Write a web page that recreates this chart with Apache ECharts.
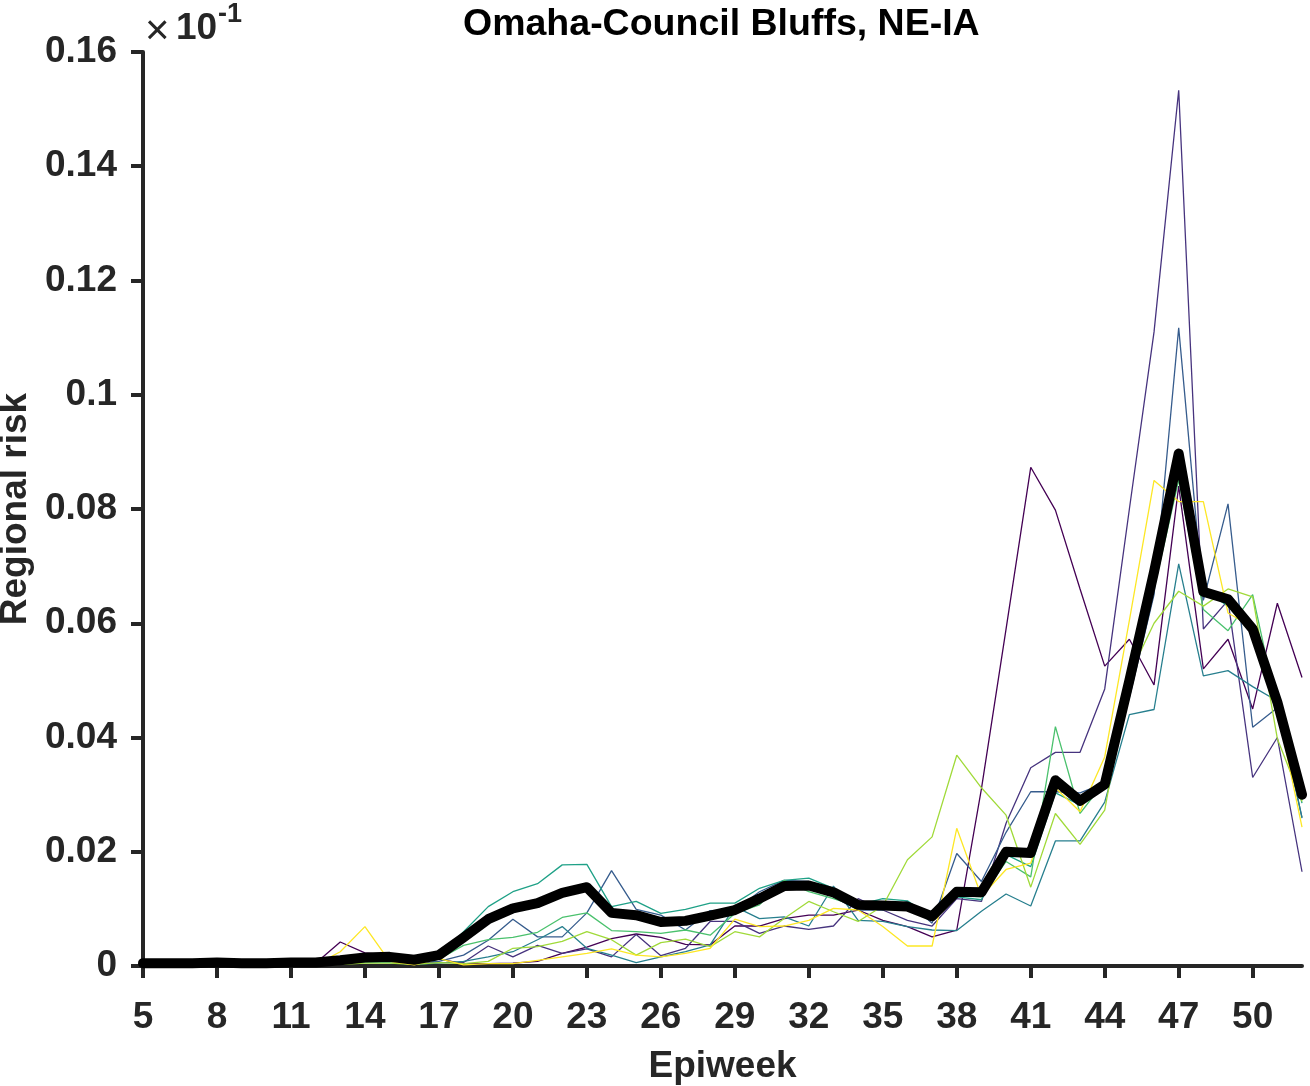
<!DOCTYPE html>
<html><head><meta charset="utf-8">
<script src="https://cdn.jsdelivr.net/npm/echarts@6/dist/echarts.min.js"></script>
<style>html,body{margin:0;padding:0;background:#fff}#c{width:1310px;height:1086px}</style>
</head><body><div id="c"></div>
<script>
// Epiweeks 5..52
const weeks = [5,6,7,8,9,10,11,12,13,14,15,16,17,18,19,20,21,22,23,24,25,26,27,28,29,30,31,32,33,34,35,36,37,38,39,40,41,42,43,44,45,46,47,48,49,50,51,52];
const yTicks = [0,0.02,0.04,0.06,0.08,0.1,0.12,0.14,0.16];

const run1 = [0.0003,0.0003,0.0003,0.0004,0.0003,0.0003,0.0005,0.0005,0.0042,0.0023,0.0019,0.0008,0.0012,0.0004,0.0004,0.0005,0.0008,0.0022,0.0033,0.0048,0.0056,0.0050,0.0038,0.0037,0.0070,0.0070,0.0083,0.0089,0.0089,0.0098,0.0080,0.0069,0.0051,0.0063,0.0310,0.0590,0.0873,0.0798,0.0660,0.0525,0.0572,0.0492,0.0840,0.0520,0.0572,0.0450,0.0635,0.0505];
const run2 = [0.0002,0.0002,0.0002,0.0003,0.0002,0.0002,0.0003,0.0003,0.0008,0.0010,0.0008,0.0005,0.0006,0.0006,0.0035,0.0016,0.0036,0.0022,0.0030,0.0016,0.0055,0.0018,0.0031,0.0078,0.0078,0.0057,0.0070,0.0064,0.0070,0.0118,0.0098,0.0080,0.0070,0.0118,0.0113,0.0250,0.0347,0.0374,0.0374,0.0485,0.0800,0.1110,0.1533,0.0590,0.0640,0.0330,0.0400,0.0165];
const run3 = [0.0003,0.0003,0.0003,0.0003,0.0003,0.0003,0.0004,0.0004,0.0005,0.0008,0.0010,0.0006,0.0008,0.0019,0.0045,0.0082,0.0051,0.0051,0.0093,0.0167,0.0099,0.0089,0.0063,0.0097,0.0098,0.0130,0.0150,0.0148,0.0121,0.0098,0.0098,0.0113,0.0075,0.0197,0.0148,0.0234,0.0305,0.0305,0.0303,0.0320,0.0470,0.0650,0.1117,0.0640,0.0809,0.0418,0.0452,0.0260];
const run4 = [0.0002,0.0002,0.0002,0.0002,0.0002,0.0002,0.0003,0.0003,0.0004,0.0006,0.0006,0.0003,0.0005,0.0008,0.0016,0.0025,0.0046,0.0069,0.0031,0.0019,0.0006,0.0016,0.0025,0.0037,0.0104,0.0083,0.0086,0.0070,0.0140,0.0080,0.0078,0.0069,0.0063,0.0062,0.0096,0.0126,0.0105,0.0219,0.0219,0.0287,0.0440,0.0449,0.0704,0.0508,0.0517,0.0489,0.0464,0.0259];
const run5 = [0.0004,0.0004,0.0004,0.0005,0.0004,0.0004,0.0005,0.0005,0.0006,0.0010,0.0012,0.0007,0.0017,0.0060,0.0104,0.0130,0.0144,0.0177,0.0178,0.0104,0.0113,0.0092,0.0099,0.0110,0.0110,0.0136,0.0150,0.0154,0.0136,0.0107,0.0118,0.0114,0.0084,0.0121,0.0116,0.0195,0.0174,0.0303,0.0282,0.0317,0.0500,0.0680,0.0885,0.0660,0.0630,0.0580,0.0450,0.0285];
const run6 = [0.0003,0.0003,0.0003,0.0003,0.0003,0.0003,0.0004,0.0004,0.0004,0.0007,0.0008,0.0004,0.0012,0.0036,0.0046,0.0050,0.0059,0.0085,0.0093,0.0062,0.0060,0.0057,0.0063,0.0054,0.0092,0.0107,0.0150,0.0130,0.0118,0.0104,0.0104,0.0104,0.0081,0.0124,0.0121,0.0183,0.0156,0.0419,0.0267,0.0323,0.0490,0.0660,0.0851,0.0624,0.0587,0.0650,0.0450,0.0290];
const run7 = [0.0002,0.0002,0.0002,0.0002,0.0002,0.0002,0.0002,0.0002,0.0003,0.0005,0.0005,0.0003,0.0006,0.0004,0.0008,0.0031,0.0034,0.0043,0.0060,0.0046,0.0019,0.0041,0.0047,0.0034,0.0060,0.0051,0.0083,0.0113,0.0095,0.0078,0.0105,0.0186,0.0226,0.0369,0.0312,0.0264,0.0138,0.0267,0.0213,0.0273,0.0510,0.0600,0.0656,0.0630,0.0660,0.0646,0.0398,0.0288];
const run8 = [0.0002,0.0002,0.0002,0.0002,0.0002,0.0002,0.0002,0.0002,0.0025,0.0069,0.0008,0.0002,0.0013,0.0002,0.0004,0.0004,0.0010,0.0016,0.0022,0.0030,0.0019,0.0016,0.0022,0.0031,0.0082,0.0069,0.0070,0.0080,0.0101,0.0098,0.0069,0.0035,0.0035,0.0241,0.0122,0.0169,0.0180,0.0312,0.0270,0.0366,0.0605,0.0850,0.0813,0.0813,0.0618,0.0593,0.0450,0.0243];
const meanRisk = [0.0005,0.0005,0.0005,0.0006,0.0005,0.0005,0.0006,0.0006,0.0010,0.0015,0.0016,0.0011,0.0019,0.0050,0.0082,0.0101,0.0110,0.0128,0.0138,0.0093,0.0089,0.0077,0.0079,0.0088,0.0098,0.0118,0.0140,0.0141,0.0129,0.0107,0.0106,0.0104,0.0087,0.0130,0.0129,0.0200,0.0198,0.0325,0.0289,0.0318,0.0500,0.0690,0.0897,0.0655,0.0642,0.0590,0.0462,0.0300];

const runs = [run1,run2,run3,run4,run5,run6,run7,run8];
const colors = ['#440154','#46337e','#365c8d','#277f8e','#1fa187','#4ac16d','#a0da39','#fde725'];

const FONT = '"Liberation Sans", Arial, Helvetica, sans-serif';
const AX = '#262626';

const series = runs.map((r,i)=>({
  type:'line', data:r, symbol:'none', silent:true, animation:false,
  lineStyle:{color:colors[i], width:1.3}, z:2+i
}));
series.push({type:'line', data:meanRisk, symbol:'none', silent:true, animation:false,
  lineStyle:{color:'#000', width:10, cap:'round', join:'round'}, z:20});

const chart = echarts.init(document.getElementById('c'), null, {renderer:'canvas'});
chart.setOption({
  animation:false,
  backgroundColor:'#fff',
  grid:{left:143, right:8, top:52, bottom:120, containLabel:false, outerBoundsMode:'none'},
  xAxis:{
    type:'category', data:weeks.map(String), boundaryGap:false,
    name:'Epiweek', nameLocation:'middle', nameGap:82,
    nameTextStyle:{fontFamily:FONT, fontWeight:'bold', fontSize:37, color:AX},
    axisLine:{show:true, lineStyle:{color:AX, width:4}},
    axisTick:{show:true, inside:false, length:12, interval:(i)=>i%3===0, lineStyle:{color:AX, width:4}},
    axisLabel:{interval:(i)=>i%3===0, margin:33, fontFamily:FONT, fontWeight:'bold', fontSize:37, color:AX},
    splitLine:{show:false}
  },
  yAxis:{
    type:'value', min:0, max:0.16, interval:0.02,
    name:'Regional risk', nameLocation:'middle', nameGap:108,
    nameTextStyle:{fontFamily:FONT, fontWeight:'bold', fontSize:37, color:AX},
    axisLine:{show:true, lineStyle:{color:AX, width:4}},
    axisTick:{show:true, inside:false, length:12, lineStyle:{color:AX, width:4}},
    axisLabel:{margin:26, fontFamily:FONT, fontWeight:'bold', fontSize:37, color:AX,
      formatter:(v)=>String(Math.round(v*100)/100)},
    splitLine:{show:false}
  },
  graphic:[
    {type:'text', left:463, top:6, style:{text:'Omaha-Council Bluffs, NE-IA', fontFamily:FONT, fontWeight:'bold', fontSize:37.5, fill:'#000'}},
    {type:'text', x:145, y:11, style:{text:'\u00d7', fontFamily:FONT, fontSize:42, fill:AX}},
    {type:'text', x:176, y:10, style:{text:'10', fontFamily:FONT, fontWeight:'bold', fontSize:37, fill:AX}},
    {type:'text', x:218, y:1, style:{text:'-1', fontFamily:FONT, fontWeight:'bold', fontSize:27, fill:AX}}
  ],
  series:series
});
</script></body></html>
